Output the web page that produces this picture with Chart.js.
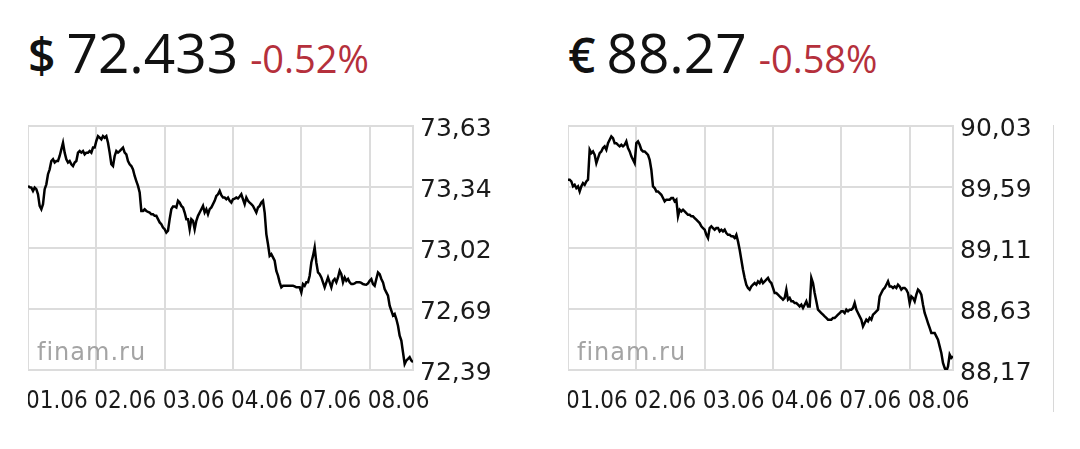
<!DOCTYPE html>
<html>
<head>
<meta charset="utf-8">
<script src="https://cdn.jsdelivr.net/npm/chart.js@4.4.1/dist/chart.umd.min.js"></script>
<style>
  body { margin: 0; width: 1080px; height: 449px; background: #fff; position: relative; overflow: hidden; font-family: "Open Sans", sans-serif; }
  .head { position: absolute; top: 24px; line-height: 56px; white-space: nowrap; color: #111; }
  .sym { font-size: 48px; font-weight: 600; margin-right: 11px; }
  .price { font-size: 55px; }
  .chg { font-size: 38px; color: #b5303c; margin-left: 12px; }
  .box { position: absolute; top: 105px; width: 479px; height: 310px; }
  .wm { position: absolute; top: 340px; font: 24px "DejaVu Sans"; line-height: 24px; color: #a4a4a4; letter-spacing: 1px; }
  .edge { position: absolute; left: 1053px; top: 125px; height: 287px; border-left: 1px solid #d8d8d8; }
</style>
</head>
<body>
<div class="head" style="left:28px"><span class="sym">$</span><span class="price">72.433</span><span class="chg">-0.52%</span></div>
<div class="head" style="left:568px"><span class="sym">€</span><span class="price">88.27</span><span class="chg">-0.58%</span></div>

<div class="box" style="left:28px"><canvas id="usd" width="479" height="310"></canvas></div>
<div class="box" style="left:568px"><canvas id="eur" width="479" height="310"></canvas></div>
<div class="wm" style="left:37px">finam.ru</div>
<div class="wm" style="left:577px">finam.ru</div>
<div class="edge"></div>

<script>
// дни торгов и индекс первой точки каждого дня
const dayLabels = ['01.06', '02.06', '03.06', '04.06', '07.06', '08.06'];
const dayStart = [0, 41, 82, 123, 164, 205];

// подписи шкалы (сетка делится на равные части)
const usdTickLabels = ['72,39', '72,69', '73,02', '73,34', '73,63'];
const eurTickLabels = ['88,17', '88,63', '89,11', '89,59', '90,03'];

// курс USD/RUB
const usdValues = [
  73.337, 73.33, 73.328, 73.311, 73.328, 73.320, 73.294, 73.234, 73.217, 73.243,
  73.320, 73.345, 73.397, 73.422, 73.465, 73.474, 73.457, 73.465, 73.465, 73.491,
  73.525, 73.559, 73.508, 73.474, 73.457, 73.465, 73.448, 73.439, 73.457, 73.465,
  73.508, 73.516, 73.508, 73.516, 73.499, 73.508, 73.508, 73.516, 73.508, 73.534,
  73.534, 73.568, 73.593, 73.585, 73.576, 73.593, 73.585, 73.593, 73.559, 73.508,
  73.448, 73.439, 73.491, 73.516, 73.508, 73.516, 73.525, 73.534, 73.508, 73.499,
  73.465, 73.448, 73.439, 73.422, 73.388, 73.362, 73.337, 73.303, 73.208, 73.208,
  73.217, 73.208, 73.203, 73.200, 73.191, 73.191, 73.183, 73.183, 73.166, 73.149,
  73.140, 73.123, 73.114, 73.097, 73.106, 73.166, 73.217, 73.231, 73.231, 73.226,
  73.260, 73.251, 73.234, 73.226, 73.200, 73.166, 73.166, 73.114, 73.166, 73.157,
  73.114, 73.157, 73.183, 73.200, 73.217, 73.234, 73.200, 73.217, 73.191, 73.217,
  73.226, 73.243, 73.260, 73.285, 73.294, 73.311, 73.289, 73.277, 73.277, 73.268,
  73.277, 73.260, 73.251, 73.268, 73.272, 73.277, 73.272, 73.282, 73.294, 73.268,
  73.243, 73.277, 73.260, 73.251, 73.243, 73.234, 73.217, 73.200, 73.226, 73.234,
  73.251, 73.260, 73.200, 73.089, 73.037, 72.977, 72.986, 72.969, 72.952, 72.900,
  72.875, 72.841, 72.815, 72.823, 72.823, 72.823, 72.823, 72.823, 72.823, 72.823,
  72.820, 72.815, 72.815, 72.815, 72.789, 72.832, 72.823, 72.841, 72.841, 72.875,
  72.943, 72.977, 73.020, 72.943, 72.892, 72.883, 72.866, 72.841, 72.815, 72.841,
  72.866, 72.841, 72.815, 72.849, 72.858, 72.841, 72.866, 72.900, 72.883, 72.841,
  72.866, 72.849, 72.858, 72.841, 72.832, 72.832, 72.835, 72.841, 72.841, 72.841,
  72.838, 72.832, 72.830, 72.829, 72.835, 72.849, 72.858, 72.832, 72.823, 72.858,
  72.892, 72.883, 72.858, 72.841, 72.806, 72.789, 72.772, 72.721, 72.695, 72.670,
  72.678, 72.652, 72.618, 72.567, 72.541, 72.481, 72.421, 72.439, 72.447, 72.456,
  72.439, 72.430
];

// курс EUR/RUB
const eurValues = [
  89.636, 89.636, 89.623, 89.585, 89.597, 89.572, 89.585, 89.546, 89.585, 89.610,
  89.597, 89.623, 89.636, 89.867, 89.841, 89.854, 89.828, 89.764, 89.803, 89.841,
  89.854, 89.880, 89.893, 89.867, 89.918, 89.944, 89.970, 89.957, 89.918, 89.918,
  89.905, 89.893, 89.905, 89.893, 89.905, 89.931, 89.880, 89.854, 89.816, 89.790,
  89.764, 89.918, 89.931, 89.905, 89.867, 89.854, 89.854, 89.841, 89.828, 89.790,
  89.713, 89.585, 89.572, 89.546, 89.546, 89.533, 89.520, 89.495, 89.469, 89.482,
  89.482, 89.482, 89.495, 89.495, 89.469, 89.482, 89.354, 89.405, 89.392, 89.405,
  89.392, 89.379, 89.366, 89.366, 89.354, 89.354, 89.341, 89.328, 89.315, 89.302,
  89.277, 89.264, 89.251, 89.212, 89.187, 89.264, 89.277, 89.264, 89.251, 89.264,
  89.264, 89.238, 89.251, 89.238, 89.251, 89.225, 89.212, 89.212, 89.200, 89.200,
  89.187, 89.212, 89.161, 89.097, 89.020, 88.943, 88.879, 88.827, 88.802, 88.789,
  88.814, 88.827, 88.840, 88.827, 88.853, 88.840, 88.866, 88.840, 88.853, 88.866,
  88.879, 88.853, 88.840, 88.802, 88.763, 88.763, 88.750, 88.737, 88.725, 88.712,
  88.725, 88.789, 88.712, 88.725, 88.699, 88.699, 88.686, 88.686, 88.673, 88.660,
  88.673, 88.648, 88.673, 88.699, 88.660, 88.660, 88.879, 88.840, 88.763, 88.699,
  88.635, 88.622, 88.609, 88.596, 88.583, 88.571, 88.558, 88.558, 88.558, 88.571,
  88.571, 88.583, 88.596, 88.609, 88.622, 88.622, 88.609, 88.635, 88.622, 88.635,
  88.635, 88.648, 88.686, 88.635, 88.609, 88.583, 88.558, 88.506, 88.532, 88.558,
  88.545, 88.571, 88.558, 88.596, 88.609, 88.622, 88.635, 88.737, 88.763, 88.789,
  88.802, 88.827, 88.853, 88.814, 88.814, 88.802, 88.814, 88.802, 88.827, 88.814,
  88.789, 88.802, 88.802, 88.789, 88.763, 88.686, 88.737, 88.725, 88.699, 88.750,
  88.789, 88.776, 88.750, 88.673, 88.609, 88.571, 88.532, 88.494, 88.455, 88.455,
  88.455, 88.429, 88.404, 88.352, 88.301, 88.224, 88.186, 88.160, 88.198, 88.288,
  88.263, 88.275
];

// рамка вокруг области графика
const frame = {
  id: 'frame',
  beforeDatasetsDraw(chart) {
    const { ctx, chartArea: a } = chart;
    ctx.save();
    ctx.strokeStyle = '#dcdcdc';
    ctx.lineWidth = 2;
    ctx.strokeRect(a.left, a.top, a.right - a.left, a.bottom - a.top);
    ctx.restore();
  }
};

const gridOpts = { color: '#dcdcdc', lineWidth: 2, drawTicks: false };

function makeChart(id, values, tickLabels, yMin, yMax) {
  const step = (yMax - yMin) / (tickLabels.length - 1);
  return new Chart(document.getElementById(id), {
    type: 'line',
    data: {
      datasets: [{
        data: values.map((v, i) => ({ x: i, y: v })),
        borderColor: '#000',
        borderWidth: 2.5,
        pointRadius: 0,
        tension: 0
      }]
    },
    options: {
      responsive: false,
      animation: false,
      layout: { padding: { top: 21, left: 0, right: 0, bottom: 0 } },
      plugins: { legend: { display: false }, tooltip: { enabled: false } },
      scales: {
        x: {
          type: 'linear',
          min: 0,
          max: values.length - 1,
          afterBuildTicks: ax => { ax.ticks = dayStart.map(v => ({ value: v })); },
          afterFit: ax => { ax.height = 45; ax.paddingLeft = 0; ax.paddingRight = 0; },
          ticks: {
            callback: (v, i) => dayLabels[i],
            align: 'start',
            autoSkip: false,
            maxRotation: 0,
            padding: 17,
            labelOffset: -2,
            color: '#1a1a1a',
            font: { family: '"DejaVu Sans Condensed", "Liberation Sans Narrow", "DejaVu Sans"', size: 24 }
          },
          grid: gridOpts,
          border: { display: false }
        },
        y: {
          position: 'right',
          min: yMin,
          max: yMax,
          afterBuildTicks: ax => { ax.ticks = tickLabels.map((_, k) => ({ value: yMin + k * step })); },
          afterFit: ax => { ax.width = 94; ax.paddingTop = 0; ax.paddingBottom = 0; },
          ticks: {
            callback: (v, i) => tickLabels[i],
            padding: 7,
            labelOffset: 3,
            color: '#1a1a1a',
            font: { family: '"DejaVu Sans"', size: 25 }
          },
          grid: gridOpts,
          border: { display: false }
        }
      }
    },
    plugins: [frame]
  });
}

makeChart('usd', usdValues, usdTickLabels, 72.39, 73.645);
makeChart('eur', eurValues, eurTickLabels, 88.17, 90.05);
</script>
</body>
</html>
